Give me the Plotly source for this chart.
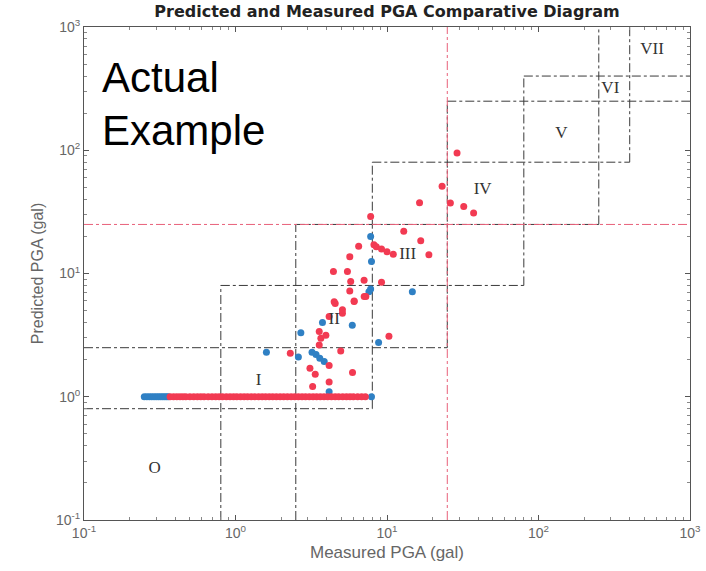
import plotly.graph_objects as go

# ---------------- data ----------------
# intensity thresholds (gal) used for the classification boxes
bounds = [0.1, 0.8, 2.5, 8, 25, 80, 250, 400, 1000]
ref_value = 25  # red reference lines

# blue series (measured, predicted)
blue_measured = [0.25, 0.26, 0.27, 0.28, 0.29, 0.30, 0.31, 0.32, 0.33, 0.34, 0.35, 0.36,
                 1.6, 2.6, 2.7, 3.2, 3.4, 3.6, 3.85, 4.15, 3.75, 5.9, 7.6, 8.8, 7.8, 7.9, 7.8, 14.7, 7.9]
blue_predicted = [1.0, 1.0, 1.0, 1.0, 1.0, 1.0, 1.0, 1.0, 1.0, 1.0, 1.0, 1.0,
                  2.3, 2.1, 3.3, 2.3, 2.2, 2.05, 1.93, 1.1, 4.0, 3.8, 7.1, 2.75, 20, 12.5, 7.5, 7.1, 1.0]

# red series (measured, predicted)
red_measured = [0.37, 0.39, 0.41, 0.43, 0.45, 0.47, 0.5, 0.53, 0.56, 0.59, 0.62, 0.66, 0.7, 0.74,
                0.78, 0.82, 0.87, 0.92, 0.97, 1.02, 1.08, 1.14, 1.2, 1.27, 1.34, 1.42, 1.5, 1.58,
                1.67, 1.76, 1.86, 1.97, 2.08, 2.2, 2.33, 2.46, 2.6, 2.75, 2.9, 3.07, 3.25, 3.43,
                3.63, 3.84, 4.06, 4.3, 4.55, 4.8, 5.1, 5.4, 5.7, 6.0, 6.4, 6.8, 7.2,
                2.3, 3.1, 3.36, 4.15, 4.15, 3.23, 5.92, 4.95, 3.57, 3.66, 3.95, 3.57, 4.15, 5.08,
                4.55, 6.07, 7.07, 10.3, 7.8, 8.2, 8.5, 9.2, 10, 11, 12.9, 16.7, 18.9, 16.4, 23.1,
                29, 26.2, 32.1, 37.3, 6.5, 5.68, 4.43, 5.48, 5.76, 7.06, 9.2, 5.68, 4.48, 6.07,
                7.25, 5.08]
red_predicted = [1.0, 1.0, 1.0, 1.0, 1.0, 1.0, 1.0, 1.0, 1.0, 1.0, 1.0, 1.0, 1.0, 1.0,
                 1.0, 1.0, 1.0, 1.0, 1.0, 1.0, 1.0, 1.0, 1.0, 1.0, 1.0, 1.0, 1.0, 1.0,
                 1.0, 1.0, 1.0, 1.0, 1.0, 1.0, 1.0, 1.0, 1.0, 1.0, 1.0, 1.0, 1.0, 1.0,
                 1.0, 1.0, 1.0, 1.0, 1.0, 1.0, 1.0, 1.0, 1.0, 1.0, 1.0, 1.0, 1.0,
                 2.25, 1.7, 1.52, 1.79, 1.32, 1.21, 1.57, 2.35, 2.63, 2.98, 3.16, 3.38, 4.47, 4.76,
                 5.7, 5.92, 6.5, 3.1, 29, 17.1, 16.5, 15.8, 15, 14.3, 22, 18.4, 14.2, 37.5, 51,
                 95, 37.3, 35, 31, 16.6, 13.7, 10.4, 10.4, 8.6, 8.8, 8.5, 7.2, 5.9, 5.97,
                 6.5, 5.07]

# region labels
region_labels = ["O", "I", "II", "III", "IV", "V", "VI", "VII"]
region_x = [0.293, 1.42, 4.48, 13.7, 42.8, 141.6, 298, 562]
region_y = [0.26, 1.35, 4.23, 14.3, 48.2, 137, 313, 650]

tick_vals = [0.1, 1, 10, 100, 1000]
tick_text = ["10<sup>-1</sup>", "10<sup>0</sup>", "10<sup>1</sup>", "10<sup>2</sup>", "10<sup>3</sup>"]
minor_vals = [0.2, 0.3, 0.4, 0.5, 0.6, 0.7, 0.8, 0.9,
              2, 3, 4, 5, 6, 7, 8, 9,
              20, 30, 40, 50, 60, 70, 80, 90,
              200, 300, 400, 500, 600, 700, 800, 900]

# ---------------- build boundary segments ----------------
n = len(bounds) - 1
bx, by = [], []
for j in range(1, n):
    lo = bounds[max(j - 2, 0)]
    hi = bounds[min(j + 2, n)]
    bx += [bounds[j], bounds[j], None]
    by += [lo, hi, None]
    bx += [lo, hi, None]
    by += [bounds[j], bounds[j], None]

fig = go.Figure()

fig.add_trace(go.Scatter(
    x=bx, y=by, mode="lines", hoverinfo="skip", showlegend=False,
    line=dict(color="#3a3a3a", width=1, dash="dashdot"),
))

fig.add_trace(go.Scatter(
    x=[ref_value, ref_value, None, bounds[0], bounds[-1]],
    y=[bounds[0], bounds[-1], None, ref_value, ref_value],
    mode="lines", hoverinfo="skip", showlegend=False,
    line=dict(color="#e8607a", width=1, dash="dashdot"),
))

fig.add_trace(go.Scatter(
    x=blue_measured, y=blue_predicted, mode="markers", showlegend=False,
    marker=dict(color="#2f80c4", size=7, line=dict(width=0)),
))
fig.add_trace(go.Scatter(
    x=red_measured, y=red_predicted, mode="markers", showlegend=False,
    marker=dict(color="#f23a52", size=7, line=dict(width=0)),
))

fig.add_trace(go.Scatter(
    x=region_x, y=region_y, mode="text", text=region_labels, showlegend=False,
    textfont=dict(family="Liberation Serif", size=17, color="#333333"),
    hoverinfo="skip",
))

axis_common = dict(
    type="log", range=[-1, 3], automargin=False,
    tickvals=tick_vals, ticktext=tick_text,
    showline=True, mirror="ticks", linecolor="#555555", linewidth=1,
    ticks="inside", ticklen=5, tickcolor="#555555",
    minor=dict(ticks="inside", ticklen=3, tickcolor="#888888", tickvals=minor_vals, showgrid=False),
    showgrid=False, zeroline=False,
    tickfont=dict(family="Liberation Sans", size=14, color="#666666"),
)

fig.update_layout(
    width=706, height=571,
    margin=dict(l=84, r=16, t=27, b=51),
    paper_bgcolor="white", plot_bgcolor="white",
    title=dict(text="<b>Predicted and Measured PGA Comparative Diagram</b>",
               x=0.5, xref="paper", y=0.98, yref="container", yanchor="middle",
               font=dict(family="DejaVu Sans", size=16, color="#222222")),
    xaxis=dict(**axis_common, title=dict(text="Measured PGA (gal)", standoff=6,
                                         font=dict(family="Liberation Sans", size=17, color="#666666"))),
    yaxis=dict(**axis_common, title=dict(text="Predicted PGA (gal)", standoff=8,
                                         font=dict(family="Liberation Sans", size=16, color="#666666"))),
    annotations=[
        dict(text="Actual", xref="paper", yref="paper", x=0.027, y=0.897,
             xanchor="left", yanchor="middle", showarrow=False,
             font=dict(family="Liberation Sans", size=42, color="black")),
        dict(text="Example", xref="paper", yref="paper", x=0.027, y=0.791,
             xanchor="left", yanchor="middle", showarrow=False,
             font=dict(family="Liberation Sans", size=42, color="black")),
    ],
)

fig.write_html("out.html", config={"displayModeBar": False},
               post_script="document.body.style.margin='0';")
